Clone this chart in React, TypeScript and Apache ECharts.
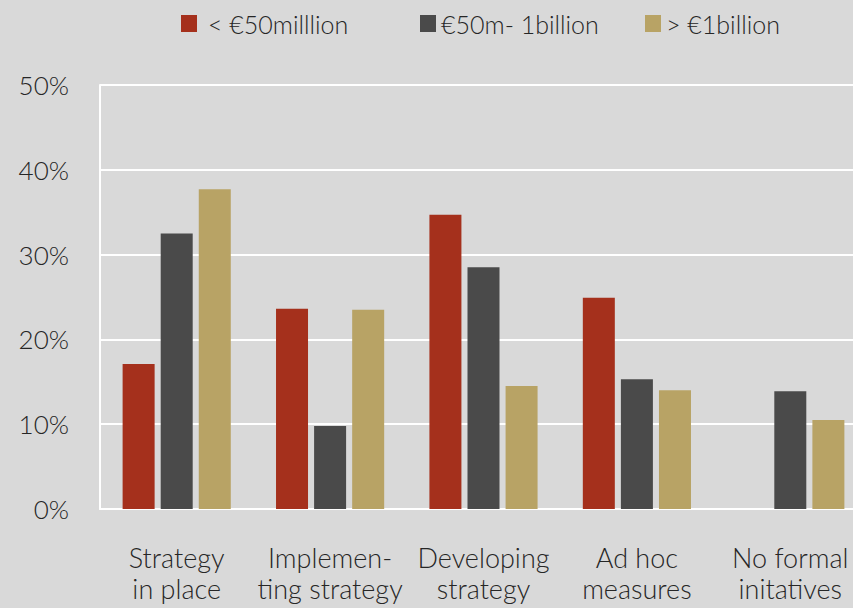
import React, { useEffect, useRef } from "react";
import * as echarts from "echarts";

const categories = [
  "Strategy\nin place",
  "Implemen-\nting strategy",
  "Developing\nstrategy",
  "Ad hoc\nmeasures",
  "No formal\ninitatives",
];
const seriesNames = ["< €50milllion", "€50m- 1billion", "> €1billion"];
const small = [17.1, 23.6, 34.7, 24.9, 0];
const mid = [32.5, 9.8, 28.5, 15.3, 13.9];
const large = [37.7, 23.5, 14.5, 14.0, 10.5];
const colors = ["#a5301c", "#4a4a4a", "#b8a365"];
const legendLeft = [176, 415, 640];
const FONT = "Lato";

export default function App() {
  const ref = useRef<HTMLDivElement>(null);
  useEffect(() => {
    if (!ref.current) return;
    const chart = echarts.init(ref.current, null, { renderer: "svg" });
    const data = [small, mid, large];
    chart.setOption({
      animation: false,
      backgroundColor: "#d9d9d9",
      textStyle: { fontFamily: FONT },
      legend: seriesNames.map((name, i) => ({
        top: 6,
        left: legendLeft[i],
        itemWidth: 16,
        itemHeight: 17,
        icon: "rect",
        textStyle: {
          fontSize: 25,
          color: "#262626",
          fontFamily: FONT,
          fontWeight: 300,
          padding: [0, 0, 0, i === 0 ? 6 : 0],
        },
        data: [name],
      })),
      grid: { left: 100, top: 85, right: 0, height: 424, containLabel: false },
      xAxis: {
        type: "category",
        data: categories,
        axisLine: { show: true, lineStyle: { color: "#ffffff", width: 2 } },
        axisTick: { show: false },
        axisLabel: {
          fontSize: 27,
          color: "#262626",
          fontFamily: FONT,
          fontWeight: 300,
          lineHeight: 31,
          margin: 33,
          interval: 0,
        },
      },
      yAxis: {
        type: "value",
        min: 0,
        max: 50,
        interval: 10,
        axisLine: { show: true, lineStyle: { color: "#ffffff", width: 2 } },
        axisTick: { show: false },
        splitLine: { show: true, lineStyle: { color: "#ffffff", width: 2 } },
        axisLabel: {
          formatter: "{value}%",
          fontSize: 26,
          color: "#262626",
          fontFamily: FONT,
          fontWeight: 300,
          margin: 31,
        },
      },
      series: seriesNames.map((name, i) => ({
        name,
        type: "bar",
        data: data[i],
        barWidth: 32,
        barGap: "19%",
        itemStyle: { color: colors[i] },
      })),
    });
    return () => chart.dispose();
  }, []);
  return (
    <div style={{ width: 853, height: 608, position: "absolute", left: 0, top: 0, overflow: "hidden" }}>
      <div ref={ref} style={{ width: 867, height: 608 }} />
    </div>
  );
}
